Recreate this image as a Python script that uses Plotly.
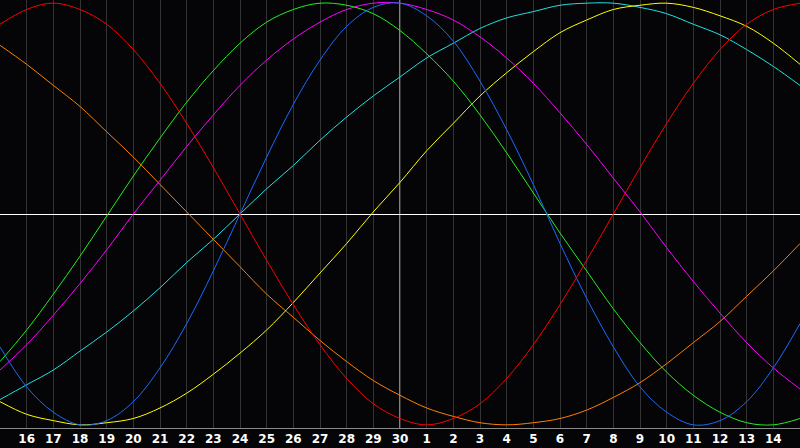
import plotly.graph_objects as go

# day index 0..30 across the chart (15th of one month to 15th of the next)
days = list(range(31))
tick_pos = list(range(1, 30))
tick_labels = [str(d) for d in list(range(16, 31)) + list(range(1, 15))]

# curve values in percent at each day
blue = [-63, -82, -94, -100, -98, -89, -73, -52, -27, 0, 27, 52, 73, 89, 98, 100,
        94, 82, 63, 40, 14, -14, -40, -63, -82, -94, -100, -98, -89, -73, -52]
red = [90, 97, 100, 97, 90, 78, 62, 43, 22, 0, -22, -43, -62, -78, -90, -97,
       -100, -97, -90, -78, -62, -43, -22, 0, 22, 43, 62, 78, 90, 97, 100]
green = [-70, -55, -38, -20, -1, 18, 36, 53, 68, 81, 91, 97, 100, 99, 95, 87,
         76, 63, 47, 29, 10, -9, -27, -45, -61, -75, -86, -94, -99, -100, -97]
magenta = [-74, -62, -48, -33, -17, 0, 16, 32, 47, 61, 73, 83, 91, 97, 100, 100,
           97, 92, 84, 74, 62, 48, 33, 17, 1, -16, -32, -47, -61, -73, -83]
yellow = [-89, -95, -98, -100, -99, -97, -92, -85, -76, -66, -55, -42, -28, -14, 1, 15,
          30, 43, 56, 67, 77, 86, 92, 97, 99, 100, 98, 94, 89, 81, 71]
orange = [80, 71, 61, 51, 39, 27, 14, 1, -12, -25, -38, -49, -60, -70, -79, -86,
          -92, -96, -99, -100, -99, -97, -93, -87, -80, -71, -61, -51, -39, -27, -14]
cyan = [-88, -81, -74, -65, -56, -46, -35, -23, -12, 0, 12, 23, 35, 46, 56, 65,
        74, 81, 88, 93, 96, 99, 100, 100, 98, 95, 90, 85, 78, 70, 61]

series = [
    (orange, "#ff8000"),
    (cyan, "#20e0e0"),
    (yellow, "#ffff00"),
    (magenta, "#ff00ff"),
    (green, "#20f020"),
    (blue, "#1a6aff"),
    (red, "#ff0000"),
]

fig = go.Figure()

# white marker for the current day
fig.add_shape(type="line", x0=15, x1=15, y0=-101.5, y1=101.5,
              line=dict(color="white", width=1), layer="below")

for vals, col in series:
    fig.add_trace(go.Scatter(x=days, y=vals, mode="lines",
                             line=dict(color=col, width=1, shape="spline"),
                             hoverinfo="skip", showlegend=False))

fig.update_xaxes(range=[0, 30], tickvals=tick_pos, ticktext=tick_labels,
                 showgrid=True, gridcolor="#333333", gridwidth=1,
                 zeroline=False, showline=True, linecolor="#8a8a8a", linewidth=1, mirror=True,
                 ticks="", tickfont=dict(family="DejaVu Sans", size=12, color="white", weight="bold"))
fig.update_yaxes(range=[-101.5, 101.5], showgrid=False, showticklabels=False,
                 zeroline=True, zerolinecolor="white", zerolinewidth=1,
                 showline=True, linecolor="#8a8a8a", linewidth=1, mirror=True, ticks="")

fig.update_layout(width=800, height=448, margin=dict(l=0, r=0, t=0, b=20),
                  paper_bgcolor="#050508", plot_bgcolor="#050508",
                  showlegend=False)

fig.write_html("out.html", config={"displayModeBar": False},
               post_script="document.body.style.margin='0';")
